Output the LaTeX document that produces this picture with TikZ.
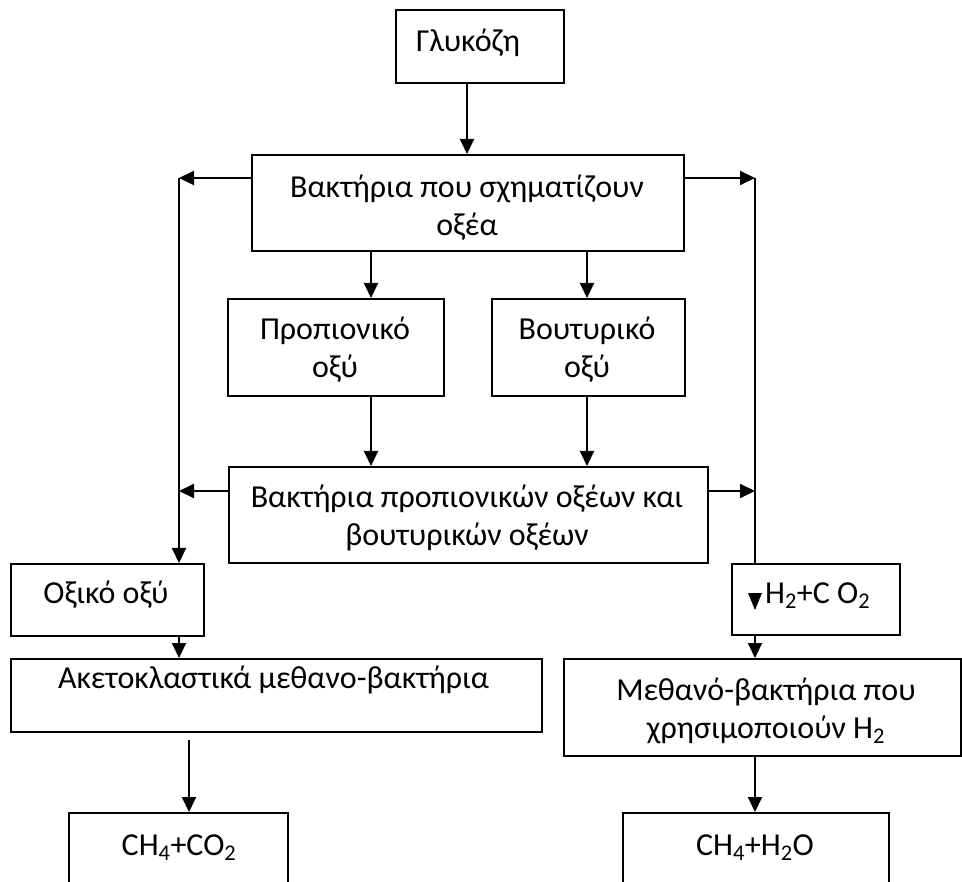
\documentclass[tikz,border=0pt]{standalone}
\usepackage{fontspec}
\setmainfont{Carlito}
\usetikzlibrary{arrows.meta}
\begin{document}
\begin{tikzpicture}[x=1pt,y=-1pt,
  box/.style={draw, line width=2pt, fill=white, inner sep=0pt, anchor=north west},
  lbl/.style={inner sep=0pt, align=center, anchor=base, font=\fontsize{32}{38}\selectfont},
  conn/.style={line width=2pt},
  arr/.style={conn, -{Triangle[length=15pt,width=14pt]}}]
\useasboundingbox (0,0) rectangle (962,882);
\clip (0,0) rectangle (962,882);

% boxes
\node[box, minimum width=168, minimum height=73] (glu)  at (395,9)   {};
\node[box, minimum width=432, minimum height=96] (acid) at (251,154) {};
\node[box, minimum width=216, minimum height=97] (prop) at (227,298) {};
\node[box, minimum width=193, minimum height=97] (bout) at (491,298) {};
\node[box, minimum width=479, minimum height=96] (pb)   at (228,466) {};
\node[box, minimum width=193, minimum height=72] (oxi)  at (10,563)  {};
\node[box, minimum width=168, minimum height=71] (hco)  at (731,563) {};
\node[box, minimum width=531, minimum height=73] (aket) at (10,658)  {};
\node[box, minimum width=397, minimum height=97] (meth) at (563,658) {};
\node[box, minimum width=219, minimum height=90] (pco)  at (68,812)  {};
\node[box, minimum width=266, minimum height=90] (pho)  at (622,812) {};

% labels (two-line labels are placed by the baseline of their last line)
\node[lbl] (glu-t)  at (468,52)  {Γλυκόζη};
\node[lbl] (acid-t) at (467,236) {Βακτήρια που σχηματίζουν\\οξέα};
\node[lbl] (prop-t) at (335,378) {Προπιονικό\\οξύ};
\node[lbl] (bout-t) at (587,378) {Βουτυρικό\\οξύ};
\node[lbl] (pb-t)   at (467,546) {Βακτήρια προπιονικών οξέων και\\βουτυρικών οξέων};
\node[lbl] (oxi-t)  at (106,603) {Οξικό οξύ};
\node[lbl, anchor=base west] (hco-t) at (765,603) {H\textsubscript{2}+C O\textsubscript{2}};
\node[lbl, anchor=base west] (aket-t) at (58,688) {Ακετοκλαστικά μεθανο-βακτήρια};
\node[lbl] (meth-t) at (766,738) {Μεθανό-βακτήρια που\\χρησιμοποιούν H\textsubscript{2}};
\node[lbl] (pco-t)  at (179,855) {CH\textsubscript{4}+CO\textsubscript{2}};
\node[lbl] (pho-t)  at (755,855) {CH\textsubscript{4}+H\textsubscript{2}O};

% corner points of the side branches
\coordinate (lc1) at (179,178);
\coordinate (rc1) at (755,178);
\coordinate (lc2) at (179,491);
\coordinate (rc2) at (755,491);
\coordinate (ak) at (189,740);

% connectors
\draw[arr] (glu.south -| 467,0) -- (acid.north -| 467,0);
\draw[arr] (acid.west |- lc1) -- (lc1);
\draw[arr] (acid.east |- rc1) -- (rc1);
\draw[arr] (lc1) -- (oxi.north -| lc1);
\draw[conn] (rc1) -- (hco.north -| rc1);
\fill (748,593) -- (762,593) -- (755,610) -- cycle;
\draw[arr] (acid.south -| 371,0) -- (prop.north -| 371,0);
\draw[arr] (acid.south -| 587,0) -- (bout.north -| 587,0);
\draw[arr] (prop.south -| 371,0) -- (pb.north -| 371,0);
\draw[arr] (bout.south -| 587,0) -- (pb.north -| 587,0);
\draw[arr] (pb.west |- lc2) -- (lc2);
\draw[arr] (pb.east |- rc2) -- (rc2);
\draw[arr] (oxi.south -| lc1) -- (aket.north -| lc1);
\draw[arr] (ak) -- (pco.north -| ak);
\draw[arr] (hco.south -| rc1) -- (meth.north -| rc1);
\draw[arr] (meth.south -| rc1) -- (pho.north -| rc1);
\end{tikzpicture}
\end{document}
